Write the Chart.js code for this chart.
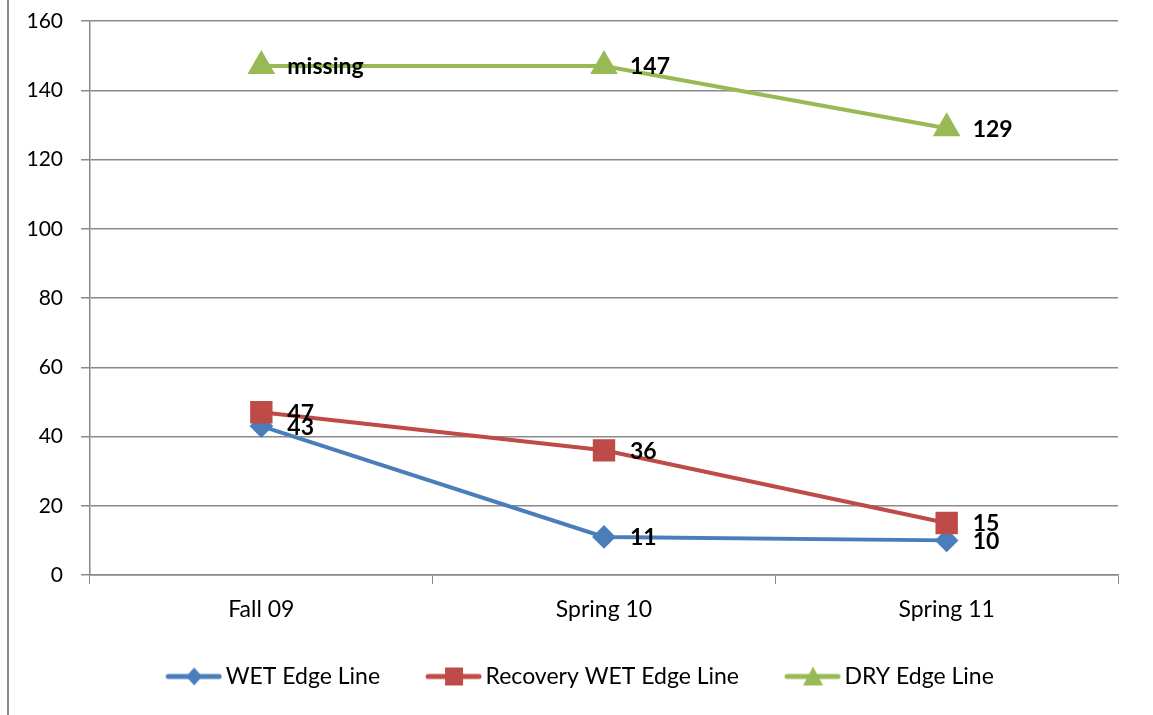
<!DOCTYPE html>
<html>
<head>
<meta charset="utf-8">
<script src="https://cdn.jsdelivr.net/npm/chart.js@4"></script>
<style>
  html, body { margin: 0; padding: 0; background: #fff; }
  #wrap { position: relative; width: 1153px; height: 715px; }
  #edge { position: absolute; left: 7px; top: 0; width: 2px; height: 715px; background: #8c8c8c; }
</style>
</head>
<body>
<div id="wrap">
  <div id="edge"></div>
  <canvas id="chart" width="1153" height="715"></canvas>
</div>
<script>
// ── data ──
const categories = ['Fall 09', 'Spring 10', 'Spring 11'];
const wetEdge      = [43, 11, 10];
const recoveryWet  = [47, 36, 15];
const dryEdge      = [147, 147, 129];
const wetLabels      = ['43', '11', '10'];
const recoveryLabels = ['47', '36', '15'];
const dryLabels      = ['missing', '147', '129'];
const yTicks = [0, 20, 40, 60, 80, 100, 120, 140, 160];

const FONT = 'Lato, "Liberation Sans", sans-serif';
const BLUE = '#4A7EBB', RED = '#BE4B48', GREEN = '#98B954';

// legend swatch: short line with marker in the middle (left margin gives item spacing)
function swatch(color, style) {
  const c = document.createElement('canvas');
  c.width = 82; c.height = 22;
  const g = c.getContext('2d');
  g.strokeStyle = color; g.lineWidth = 5; g.lineCap = 'round';
  g.beginPath(); g.moveTo(28, 11); g.lineTo(79, 11); g.stroke();
  g.fillStyle = color;
  const m = 54;
  g.beginPath();
  if (style === 'diamond') { g.moveTo(m, 2); g.lineTo(m + 8, 11); g.lineTo(m, 20); g.lineTo(m - 8, 11); }
  else if (style === 'square') { g.rect(m - 9, 2, 18, 18); }
  else { g.moveTo(m, 1); g.lineTo(m + 10, 20); g.lineTo(m - 10, 20); }
  g.closePath(); g.fill();
  return c;
}
const swatches = [swatch(BLUE, 'diamond'), swatch(RED, 'square'), swatch(GREEN, 'tri')];
const pointLabels = [wetLabels, recoveryLabels, dryLabels];

const labelPlugin = {
  id: 'valueLabels',
  afterLayout(chart) {
    // nudge legend block right to sit like the original
    if (chart.legend) { chart.legend.left += 12; chart.legend.right += 12; }
  },
  afterDatasetsDraw(chart) {
    const ctx = chart.ctx;
    ctx.save();
    ctx.font = 'bold 23px ' + FONT;
    ctx.fillStyle = '#000';
    ctx.textAlign = 'left';
    ctx.textBaseline = 'middle';
    chart.data.datasets.forEach((ds, di) => {
      chart.getDatasetMeta(di).data.forEach((pt, i) => {
        ctx.fillText(pointLabels[di][i], pt.x + 26, pt.y + 1);
      });
    });
    ctx.restore();
  }
};

new Chart(document.getElementById('chart'), {
  type: 'line',
  data: {
    labels: categories,
    datasets: [
      { label: 'WET Edge Line', data: wetEdge, borderColor: BLUE, backgroundColor: BLUE, borderWidth: 4,
        pointStyle: 'rectRot', pointRadius: 9, pointHoverRadius: 9, order: 3 },
      { label: 'Recovery WET Edge Line', data: recoveryWet, borderColor: RED, backgroundColor: RED, borderWidth: 4,
        pointStyle: 'rect', pointRadius: 13, pointHoverRadius: 13, order: 2 },
      { label: 'DRY Edge Line', data: dryEdge, borderColor: GREEN, backgroundColor: GREEN, borderWidth: 4,
        pointStyle: 'triangle', pointRadius: 12, pointHoverRadius: 12, order: 1 }
    ]
  },
  options: {
    responsive: false,
    animation: false,
    layout: { padding: { top: 21, right: 35, bottom: 17, left: 0 } },
    plugins: {
      tooltip: { enabled: false },
      legend: {
        position: 'bottom',
        labels: {
          usePointStyle: true,
          pointStyleWidth: 66,
          padding: 28,
          color: '#000',
          font: { family: FONT, size: 23 },
          generateLabels: chart => chart.data.datasets.map((ds, i) => ({
            text: ds.label, pointStyle: swatches[i], fillStyle: ds.borderColor,
            strokeStyle: ds.borderColor, lineWidth: 0, datasetIndex: i, hidden: false
          }))
        }
      }
    },
    scales: {
      x: {
        offset: true,
        grid: { offset: true, drawOnChartArea: false, color: '#888', tickLength: 9 },
        border: { color: '#888', width: 1.5 },
        ticks: { color: '#000', font: { family: FONT, size: 23 }, padding: 12 },
        afterFit: s => { s.height = 62; }
      },
      y: {
        min: 0, max: 160,
        afterBuildTicks: s => { s.ticks = yTicks.map(v => ({ value: v })); },
        grid: { color: '#8a8a8a', lineWidth: 1.5, tickLength: 9 },
        border: { color: '#888', width: 1.5 },
        ticks: { color: '#000', font: { family: FONT, size: 21 }, padding: 18 },
        afterFit: s => { s.width = 90; s.paddingTop = 0; s.paddingBottom = 0; }
      }
    }
  },
  plugins: [labelPlugin]
});
</script>
</body>
</html>
